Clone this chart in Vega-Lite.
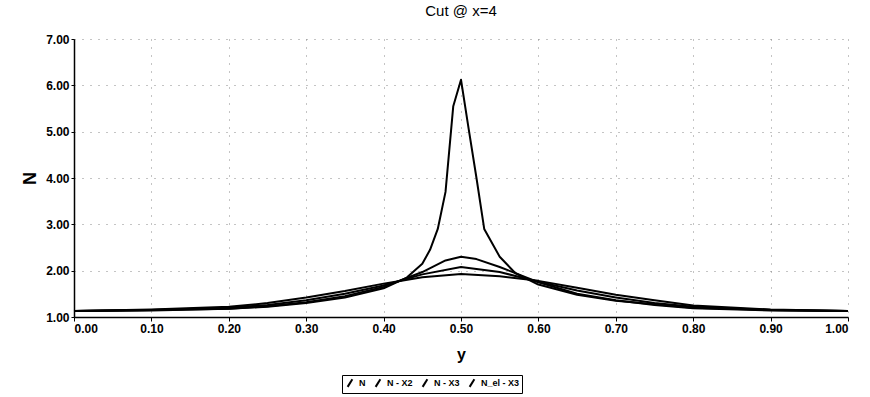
{
  "$schema": "https://vega.github.io/schema/vega-lite/v6.json",
  "autosize": "none",
  "width": 774,
  "height": 278,
  "padding": {"left": 74, "top": 39, "right": 22, "bottom": 80},
  "background": "white",
  "config": {
    "font": "Liberation Sans",
    "view": {"stroke": null},
    "axis": {"labelFont": "Liberation Sans", "titleFont": "Liberation Sans"}
  },
  "title": {"text": "Cut @ x=4", "fontSize": 15, "fontWeight": "normal", "font": "Liberation Sans", "color": "black", "offset": 14},
  "data": {"values": [
    {"x": 0.00, "v": 1.13, "s": "N"},
    {"x": 0.10, "v": 1.15, "s": "N"},
    {"x": 0.20, "v": 1.18, "s": "N"},
    {"x": 0.25, "v": 1.22, "s": "N"},
    {"x": 0.30, "v": 1.30, "s": "N"},
    {"x": 0.35, "v": 1.42, "s": "N"},
    {"x": 0.40, "v": 1.62, "s": "N"},
    {"x": 0.43, "v": 1.85, "s": "N"},
    {"x": 0.45, "v": 2.15, "s": "N"},
    {"x": 0.46, "v": 2.45, "s": "N"},
    {"x": 0.47, "v": 2.90, "s": "N"},
    {"x": 0.48, "v": 3.70, "s": "N"},
    {"x": 0.49, "v": 5.55, "s": "N"},
    {"x": 0.50, "v": 6.12, "s": "N"},
    {"x": 0.51, "v": 5.05, "s": "N"},
    {"x": 0.52, "v": 4.00, "s": "N"},
    {"x": 0.53, "v": 2.90, "s": "N"},
    {"x": 0.55, "v": 2.30, "s": "N"},
    {"x": 0.57, "v": 1.95, "s": "N"},
    {"x": 0.60, "v": 1.70, "s": "N"},
    {"x": 0.65, "v": 1.48, "s": "N"},
    {"x": 0.70, "v": 1.35, "s": "N"},
    {"x": 0.80, "v": 1.20, "s": "N"},
    {"x": 0.90, "v": 1.15, "s": "N"},
    {"x": 1.00, "v": 1.13, "s": "N"},

    {"x": 0.00, "v": 1.13, "s": "N - X2"},
    {"x": 0.10, "v": 1.14, "s": "N - X2"},
    {"x": 0.20, "v": 1.18, "s": "N - X2"},
    {"x": 0.25, "v": 1.23, "s": "N - X2"},
    {"x": 0.30, "v": 1.32, "s": "N - X2"},
    {"x": 0.35, "v": 1.45, "s": "N - X2"},
    {"x": 0.40, "v": 1.65, "s": "N - X2"},
    {"x": 0.45, "v": 1.97, "s": "N - X2"},
    {"x": 0.48, "v": 2.22, "s": "N - X2"},
    {"x": 0.50, "v": 2.30, "s": "N - X2"},
    {"x": 0.52, "v": 2.25, "s": "N - X2"},
    {"x": 0.55, "v": 2.08, "s": "N - X2"},
    {"x": 0.60, "v": 1.75, "s": "N - X2"},
    {"x": 0.65, "v": 1.50, "s": "N - X2"},
    {"x": 0.70, "v": 1.36, "s": "N - X2"},
    {"x": 0.75, "v": 1.26, "s": "N - X2"},
    {"x": 0.80, "v": 1.19, "s": "N - X2"},
    {"x": 0.90, "v": 1.14, "s": "N - X2"},
    {"x": 1.00, "v": 1.13, "s": "N - X2"},

    {"x": 0.00, "v": 1.13, "s": "N - X3"},
    {"x": 0.10, "v": 1.15, "s": "N - X3"},
    {"x": 0.20, "v": 1.20, "s": "N - X3"},
    {"x": 0.25, "v": 1.26, "s": "N - X3"},
    {"x": 0.30, "v": 1.36, "s": "N - X3"},
    {"x": 0.35, "v": 1.50, "s": "N - X3"},
    {"x": 0.40, "v": 1.68, "s": "N - X3"},
    {"x": 0.45, "v": 1.92, "s": "N - X3"},
    {"x": 0.50, "v": 2.08, "s": "N - X3"},
    {"x": 0.55, "v": 1.97, "s": "N - X3"},
    {"x": 0.60, "v": 1.76, "s": "N - X3"},
    {"x": 0.65, "v": 1.57, "s": "N - X3"},
    {"x": 0.70, "v": 1.42, "s": "N - X3"},
    {"x": 0.75, "v": 1.30, "s": "N - X3"},
    {"x": 0.80, "v": 1.22, "s": "N - X3"},
    {"x": 0.90, "v": 1.15, "s": "N - X3"},
    {"x": 1.00, "v": 1.13, "s": "N - X3"},

    {"x": 0.00, "v": 1.13, "s": "N_el - X3"},
    {"x": 0.10, "v": 1.16, "s": "N_el - X3"},
    {"x": 0.20, "v": 1.22, "s": "N_el - X3"},
    {"x": 0.25, "v": 1.30, "s": "N_el - X3"},
    {"x": 0.30, "v": 1.42, "s": "N_el - X3"},
    {"x": 0.35, "v": 1.56, "s": "N_el - X3"},
    {"x": 0.40, "v": 1.72, "s": "N_el - X3"},
    {"x": 0.45, "v": 1.86, "s": "N_el - X3"},
    {"x": 0.50, "v": 1.93, "s": "N_el - X3"},
    {"x": 0.55, "v": 1.88, "s": "N_el - X3"},
    {"x": 0.60, "v": 1.78, "s": "N_el - X3"},
    {"x": 0.65, "v": 1.63, "s": "N_el - X3"},
    {"x": 0.70, "v": 1.48, "s": "N_el - X3"},
    {"x": 0.75, "v": 1.36, "s": "N_el - X3"},
    {"x": 0.80, "v": 1.25, "s": "N_el - X3"},
    {"x": 0.90, "v": 1.16, "s": "N_el - X3"},
    {"x": 1.00, "v": 1.13, "s": "N_el - X3"}
  ]},
  "mark": {"type": "line", "strokeWidth": 2, "strokeJoin": "round"},
  "encoding": {
    "x": {
      "field": "x", "type": "quantitative",
      "scale": {"domain": [0, 1], "nice": false},
      "axis": {
        "values": [0, 0.1, 0.2, 0.3, 0.4, 0.5, 0.6, 0.7, 0.8, 0.9, 1.0],
        "format": ".2f", "title": "y",
        "titleFontSize": 16, "titleFontWeight": "bold", "titlePadding": 12, "titleColor": "black",
        "labelFontSize": 12, "labelFontWeight": "bold", "labelColor": "black", "labelPadding": 2,
        "domainColor": "black", "domainWidth": 1.5, "tickColor": "black", "tickSize": 4,
        "grid": true, "gridColor": "#888", "gridDash": [1, 7], "gridWidth": 1
      }
    },
    "y": {
      "field": "v", "type": "quantitative",
      "scale": {"domain": [1, 7], "nice": false, "zero": false},
      "axis": {
        "values": [1, 2, 3, 4, 5, 6, 7],
        "format": ".2f", "title": "N",
        "titleFontSize": 18, "titleFontWeight": "bold", "titlePadding": 6, "titleColor": "black",
        "labelFontSize": 12, "labelFontWeight": "bold", "labelColor": "black",
        "domainColor": "black", "domainWidth": 1.5, "tickColor": "black", "tickSize": 3,
        "grid": true, "gridColor": "#888", "gridDash": [1, 7], "gridWidth": 1
      }
    },
    "color": {
      "field": "s", "type": "nominal",
      "scale": {"domain": ["N", "N - X2", "N - X3", "N_el - X3"], "range": ["black", "black", "black", "black"]},
      "legend": {
        "title": null, "orient": "none", "direction": "horizontal",
        "legendX": 268, "legendY": 336,
        "symbolType": "M-0.5,0.8L0.5,-0.8", "symbolStrokeWidth": 2, "symbolSize": 90,
        "labelFontSize": 9, "labelFontWeight": "bold", "labelColor": "black", "labelOffset": 3,
        "columnPadding": 5, "strokeColor": "black", "padding": 2, "symbolOffset": 0
      }
    }
  }
}
